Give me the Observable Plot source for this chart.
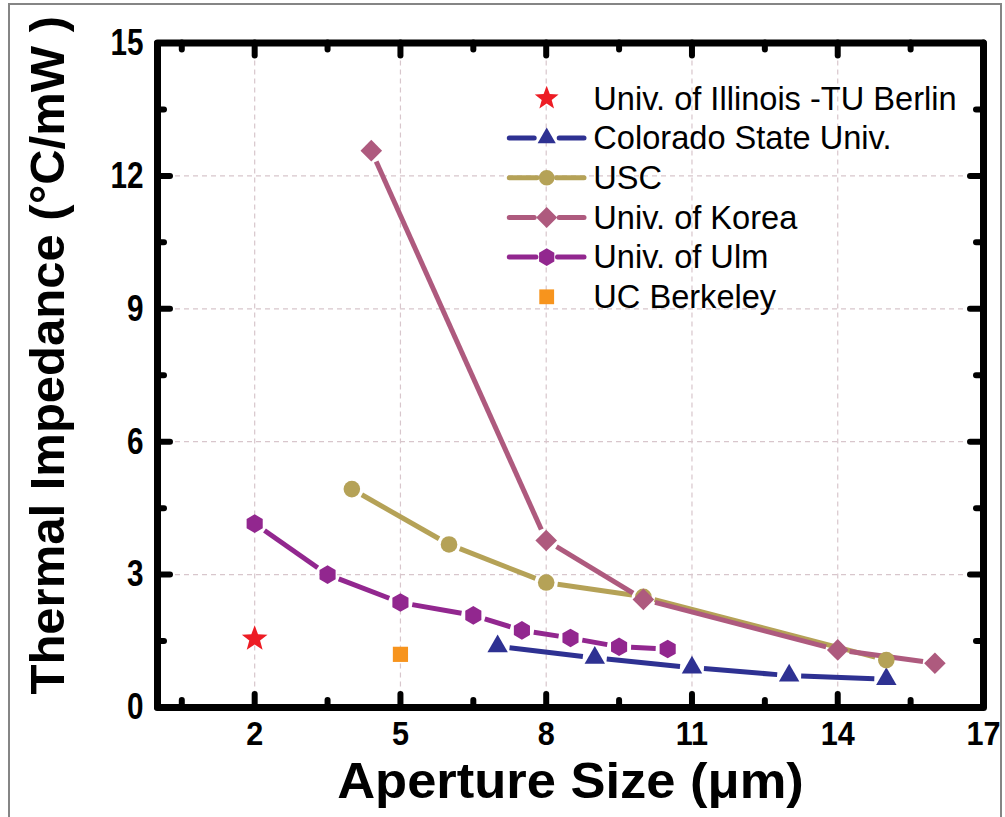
<!DOCTYPE html>
<html>
<head>
<meta charset="utf-8">
<script src="https://cdn.jsdelivr.net/npm/d3@7"></script>
<script src="https://cdn.jsdelivr.net/npm/@observablehq/plot@0.6"></script>
<style>
  body { margin: 0; background: #fff; }
  #wrap { position: relative; width: 1005px; height: 817px; overflow: hidden; background: #fff; }
  #border { position: absolute; left: 8px; top: 3px; width: 994px; height: 900px; border: 2px solid #858585; box-sizing: border-box; pointer-events: none; }
</style>
</head>
<body>
<div id="wrap"><div id="chart"></div><div id="border"></div></div>
<script>
// ---------------- data ----------------
const seriesNames = ["Univ. of Illinois -TU Berlin", "Colorado State Univ.", "USC", "Univ. of Korea", "Univ. of Ulm", "UC Berkeley"];
const seriesColors = ["#ED1C24", "#2E3192", "#B5A257", "#AE5A7E", "#92278F", "#F7941D"];
const seriesHasLine = [false, true, true, true, true, false];

const illinoisX = [2];
const illinoisY = [1.55];
const coloradoX = [7, 9, 11, 13, 15];
const coloradoY = [1.38, 1.12, 0.9, 0.72, 0.64];
const uscX = [4, 6, 8, 10, 15];
const uscY = [4.93, 3.68, 2.82, 2.5, 1.07];
const koreaX = [4.4, 8, 10, 14, 16];
const koreaY = [12.57, 3.77, 2.44, 1.3, 1.0];
const ulmX = [2, 3.5, 5, 6.5, 7.5, 8.5, 9.5, 10.5];
const ulmY = [4.15, 3.0, 2.37, 2.08, 1.74, 1.57, 1.37, 1.32];
const berkeleyX = [5];
const berkeleyY = [1.2];

const xMajor = [2, 5, 8, 11, 14, 17];
const xMinor = [0.5, 3.5, 6.5, 9.5, 12.5, 15.5];
const yMajor = [0, 3, 6, 9, 12, 15];
const yMinor = [1.5, 4.5, 7.5, 10.5, 13.5];
const xGrid = [2, 5, 8, 11, 14];
const yGrid = [3, 6, 9, 12];

const xTitle = "Aperture Size (\u03BCm)";
const yTitle = "Thermal Impedance (\u00B0C/mW )";

// ---------------- symbols ----------------
const rad = (size) => Math.sqrt(size / Math.PI);
const hexagon = { draw(c, size) { const r = rad(size); for (let k = 0; k < 6; k++) { const a = Math.PI / 3 * k - Math.PI / 2; const px = r * Math.cos(a), py = r * Math.sin(a); k ? c.lineTo(px, py) : c.moveTo(px, py); } c.closePath(); } };
const diamondSq = { draw(c, size) { const r = rad(size); c.moveTo(0, -r); c.lineTo(r, 0); c.lineTo(0, r); c.lineTo(-r, 0); c.closePath(); } };
const triangleUp = { draw(c, size) { const r = rad(size); c.moveTo(0, -r); c.lineTo(r * Math.sqrt(3) / 2, r / 2); c.lineTo(-r * Math.sqrt(3) / 2, r / 2); c.closePath(); } };
const star5 = { draw(c, size) { const r = rad(size), ri = r * 0.42; for (let k = 0; k < 10; k++) { const a = Math.PI / 5 * k - Math.PI / 2; const rr = k % 2 ? ri : r; const px = rr * Math.cos(a), py = rr * Math.sin(a); k ? c.lineTo(px, py) : c.moveTo(px, py); } c.closePath(); } };
const squareSym = { draw(c, size) { const r = rad(size); c.rect(-r, -r, 2 * r, 2 * r); } };
const circleSym = { draw(c, size) { const r = rad(size); c.moveTo(r, 0); c.arc(0, 0, r, 0, 2 * Math.PI); } };

const seriesSymbols = [star5, triangleUp, circleSym, diamondSq, hexagon, squareSym];
const seriesR = [13.5, 11.8, 8.3, 10.8, 9.3, 7.6];
const legendR = [12.5, 10.5, 7.8, 10.5, 8.8, 7.4];
const seriesGap = [0, 12, 11.5, 12, 12, 0];

const seriesX = [illinoisX, coloradoX, uscX, koreaX, ulmX, berkeleyX];
const seriesY = [illinoisY, coloradoY, uscY, koreaY, ulmY, berkeleyY];

// ---------------- layout ----------------
const W = 1005, H = 817, mL = 157, mR = 22, mT = 42.5, mB = 110;
const innerW = W - mL - mR, innerH = H - mT - mB;
const majorLen = 13, minorLen = 7;
const lineW = 5;

const lineMarks = [];
const dotMarks = [];
seriesNames.forEach((name, i) => {
  const pts = seriesX[i].map((x, j) => ({x, y: seriesY[i][j]}));
  if (seriesHasLine[i]) {
    const segs = d3.pairs(pts).map(([a, b]) => ({x1: a.x, y1: a.y, x2: b.x, y2: b.y}));
    lineMarks.push(Plot.arrow(segs, {x1: "x1", y1: "y1", x2: "x2", y2: "y2", stroke: seriesColors[i], strokeWidth: lineW, headLength: 0, insetStart: seriesGap[i], insetEnd: seriesGap[i], strokeLinecap: "butt"}));
  }
  dotMarks.push(Plot.dot(pts, {x: "x", y: "y", r: seriesR[i], symbol: seriesSymbols[i], fill: seriesColors[i], stroke: "none"}));
});

function legendMark() {
  const g = d3.create("svg:g");
  const top = 98.3, step = 39.7, cx = 546.7, x0 = 509.3, x1 = 584, tx = 593.3;
  seriesNames.forEach((name, i) => {
    const cy = top + step * i;
    if (seriesHasLine[i]) {
      const gap = legendR[i] + 2;
      g.append("line").attr("x1", x0).attr("x2", cx - gap).attr("y1", cy).attr("y2", cy)
        .attr("stroke", seriesColors[i]).attr("stroke-width", lineW).attr("stroke-linecap", "round");
      g.append("line").attr("x1", cx + gap).attr("x2", x1).attr("y1", cy).attr("y2", cy)
        .attr("stroke", seriesColors[i]).attr("stroke-width", lineW).attr("stroke-linecap", "round");
    }
    g.append("path").attr("transform", `translate(${cx},${cy})`)
      .attr("d", d3.symbol(seriesSymbols[i], Math.PI * legendR[i] * legendR[i])())
      .attr("fill", seriesColors[i]);
    g.append("text").attr("x", tx).attr("y", cy + 11.3).attr("font-size", 32.6)
      .attr("text-anchor", "start")
      .attr("font-family", "Liberation Sans, Arial, sans-serif").attr("fill", "black").text(name);
  });
  return g.node();
}

const tickStyle = {stroke: "black", strokeWidth: 6, strokeLinecap: "round"};

const chart = Plot.plot({
  width: W, height: H,
  marginLeft: mL, marginRight: mR, marginTop: mT, marginBottom: mB,
  x: {domain: [0, 17]},
  y: {domain: [0, 15]},
  style: {fontFamily: "Liberation Sans, Arial, sans-serif", background: "white", color: "black", overflow: "visible"},
  marks: [
    Plot.gridX(xGrid, {stroke: "#d8c6cc", strokeOpacity: 1, strokeWidth: 1.2, strokeDasharray: "5,4"}),
    Plot.gridY(yGrid, {stroke: "#d8c6cc", strokeOpacity: 1, strokeWidth: 1.2, strokeDasharray: "5,4"}),
    Plot.axisX(xMajor, {tickSize: 0, tickPadding: 13, fontSize: 34, fontWeight: "bold", label: null}),
    Plot.axisY(yMajor, {tickSize: 0, tickPadding: 14, fontSize: 33, fontWeight: "bold", label: null}),
    ...lineMarks,
    ...dotMarks,
    Plot.tickX(xMajor, {x: d => d, insetTop: innerH - majorLen, ...tickStyle}),
    Plot.tickX(xMinor, {x: d => d, insetTop: innerH - minorLen, ...tickStyle}),
    Plot.tickX(xMajor, {x: d => d, insetBottom: innerH - majorLen, ...tickStyle}),
    Plot.tickX(xMinor, {x: d => d, insetBottom: innerH - minorLen, ...tickStyle}),
    Plot.tickY(yMajor, {y: d => d, insetRight: innerW - majorLen, ...tickStyle}),
    Plot.tickY(yMinor, {y: d => d, insetRight: innerW - minorLen, ...tickStyle}),
    Plot.tickY(yMajor, {y: d => d, insetLeft: innerW - majorLen, ...tickStyle}),
    Plot.tickY(yMinor, {y: d => d, insetLeft: innerW - minorLen, ...tickStyle}),
    Plot.frame({stroke: "black", strokeWidth: 7, strokeLinejoin: "round"}),
    Plot.text([yTitle], {text: d => d, frameAnchor: "left", rotate: -90, dx: -94, dy: -20, lineAnchor: "bottom", textAnchor: "middle", fontSize: 49, fontWeight: "bold", fill: "black"}),
    Plot.text([xTitle], {text: d => d, frameAnchor: "bottom", dy: 90, lineAnchor: "bottom", textAnchor: "middle", fontSize: 50, fontWeight: "bold", fill: "black"}),
    legendMark
  ]
});
// condensed, taller digits on the y axis as in the reference
d3.select(chart).selectAll('g[aria-label="y-axis tick label"] text')
  .attr("transform", function () { return (this.getAttribute("transform") || "") + " scale(0.9,1.12)"; });
d3.select(chart).selectAll('g[aria-label="x-axis tick label"] text')
  .attr("transform", function () { return (this.getAttribute("transform") || "") + " scale(0.9,1)"; });
// slightly wider x title, as in the reference
d3.select(chart).selectAll("text").filter(function () { return this.textContent === xTitle; })
  .each(function () {
    const t = this.getAttribute("transform") || "";
    this.setAttribute("transform", t + " scale(1.05,1)");
  });
document.getElementById("chart").appendChild(chart);
</script>
</body>
</html>
